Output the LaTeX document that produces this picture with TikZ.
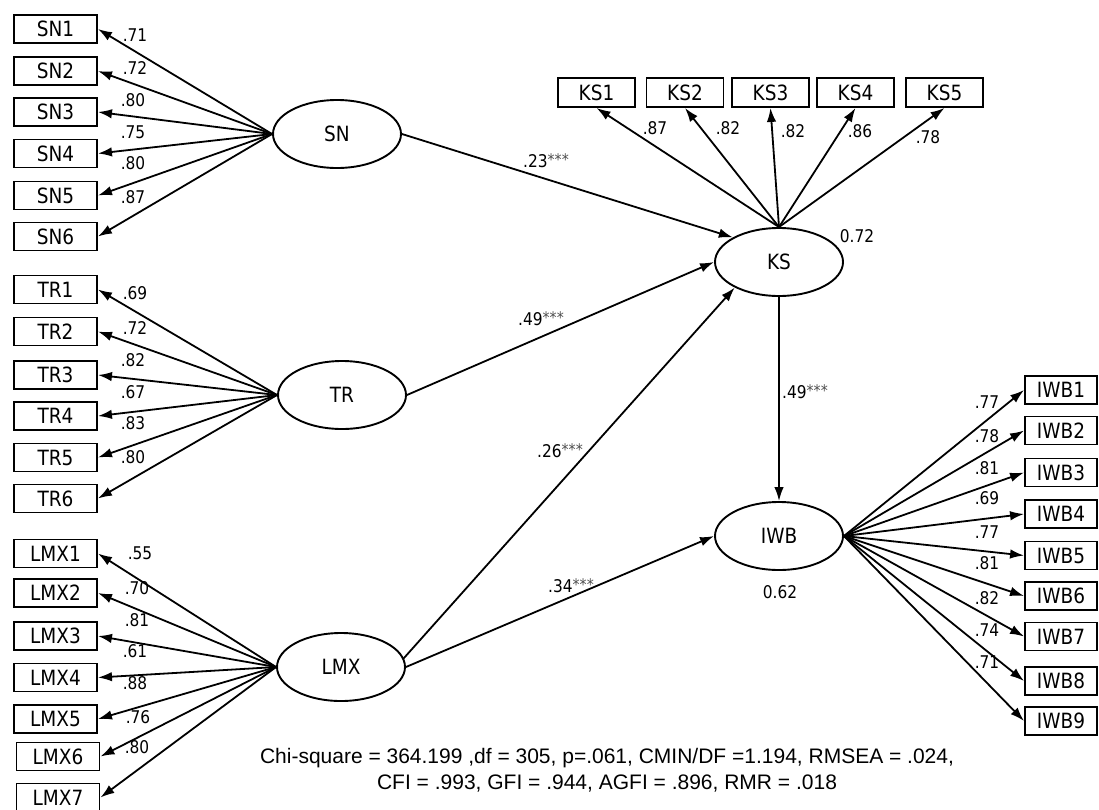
\documentclass[tikz,border=0pt]{standalone}
\usepackage{fontspec}
\setmainfont{DejaVu Sans}[FakeStretch=0.88]
\newfontfamily\arialfont{Liberation Sans}
\usetikzlibrary{arrows.meta,shapes.geometric}
\newcommand\sigstars{\raisebox{2pt}{\color{black!70}\fontsize{16}{16}\selectfont ***}}
\begin{document}
\begin{tikzpicture}[x=1pt,y=-1pt,
 obs/.style={draw, line width=1.9pt, minimum height=28pt, inner sep=0pt, font=\fontsize{21}{23}\selectfont},
 lat/.style={draw, ellipse, line width=1.9pt, minimum width=128pt, minimum height=68pt, inner sep=0pt, font=\fontsize{21}{23}\selectfont},
 arr/.style={-{Latex[length=14pt,width=9.5pt]}, line width=1.8pt},
 ld/.style={font=\fontsize{17.5}{19}\selectfont, inner sep=0pt},
 pl/.style={font=\fontsize{17.5}{19}\selectfont, inner sep=0pt, anchor=base west},
 fit/.style={font=\arialfont\fontsize{21}{23}\selectfont, inner sep=0pt},
]
\useasboundingbox (0,0) rectangle (1099,809);

% latent variables
\node[lat] (sn)  at (337,134) {SN};
\node[lat] (tr)  at (342,395) {TR};
\node[lat] (lmx) at (341,667) {LMX};
\node[lat] (ks)  at (779,262) {KS};
\node[lat] (iwb) at (779,536) {IWB};

% indicators
\foreach \i/\y in {1/29,2/71,3/112,4/153.5,5/195.5,6/236.5}
  \node[obs, minimum width=83pt] (sn\i) at (55.5,\y) {SN\i};
\foreach \i/\y in {1/289.5,2/331.5,3/375,4/416,5/457.5,6/498.5}
  \node[obs, minimum width=83pt] (tr\i) at (55.5,\y) {TR\i};
\foreach \i/\x/\y in {1/55.5/553.5,2/55.5/593,3/55.5/636,4/55.5/677.5,5/55.5/719,6/58/756.5,7/58/797.5}
  \node[obs, minimum width=83pt] (lmx\i) at (\x,\y) {LMX\i};
\foreach \i/\x in {1/596.5,2/685,3/770.5,4/855.5,5/944.5}
  \node[obs, minimum width=77pt, minimum height=29pt] (ks\i) at (\x,92.5) {KS\i};
\foreach \i/\y in {1/390,2/430.5,3/472.5,4/514,5/555.5,6/596,7/636.5,8/681,9/721}
  \node[obs, minimum width=72pt] (iwb\i) at (1061,\y) {IWB\i};

% measurement arrows
\foreach \i in {1,...,6} \draw[arr] (sn.west) -- (sn\i.east);
\foreach \i in {1,...,6} \draw[arr] (tr.west) -- (tr\i.east);
\foreach \i in {1,...,7} \draw[arr] (lmx.west) -- (lmx\i.east);
\foreach \i in {1,...,5} \draw[arr] (ks.north) -- (ks\i.south);
\foreach \i in {1,...,9} \draw[arr] (iwb.east) -- (iwb\i.west);

% structural arrows
\draw[arr] (sn.east) -- (ks.152);
\draw[arr] (tr.east) -- (ks.west);
\draw[arr] (lmx.8) -- (ks.210);
\draw[arr] (lmx.east) -- (iwb.west);
\draw[arr] (ks.south) -- (iwb.north);

% loadings
\foreach \x/\y/\t in {135/35/.71,135/68/.72,133/100/.80,133/132/.75,133/163/.80,133/197/.87,
  135/293/.69,135/328/.72,133/360/.82,133/392/.67,133/423/.83,133/457/.80,
  140/553/.55,137/588/.70,137/620/.81,135/651/.61,135/683/.88,138/717/.76,137/747/.80,
  655/128/.87,728/128/.82,793/131/.82,860/131/.86,928/137/.78,
  987/402/.77,987/436/.78,987/468/.81,987/498/.69,987/532/.77,987/563/.81,987/598/.82,987/630/.74,987/662/.71}
  \node[ld] at (\x,\y) {\t};

% path coefficients
\node[pl] (p1) at (523,167) {.23\sigstars};
\node[pl] (p2) at (518,325) {.49\sigstars};
\node[pl] (p3) at (537,457) {.26\sigstars};
\node[pl] (p4) at (548,592) {.34\sigstars};
\node[pl] (p5) at (782,398) {.49\sigstars};

% R squared
\node[ld] (r1) at (857,236) {0.72};
\node[ld] (r2) at (780,592) {0.62};

% fit indices
\node[fit] (f1) at (607,758) {Chi-square = 364.199 ,df = 305, p=.061, CMIN/DF =1.194, RMSEA = .024,};
\node[fit] (f2) at (607,783) {CFI = .993, GFI = .944, AGFI = .896, RMR = .018};
\end{tikzpicture}
\end{document}
